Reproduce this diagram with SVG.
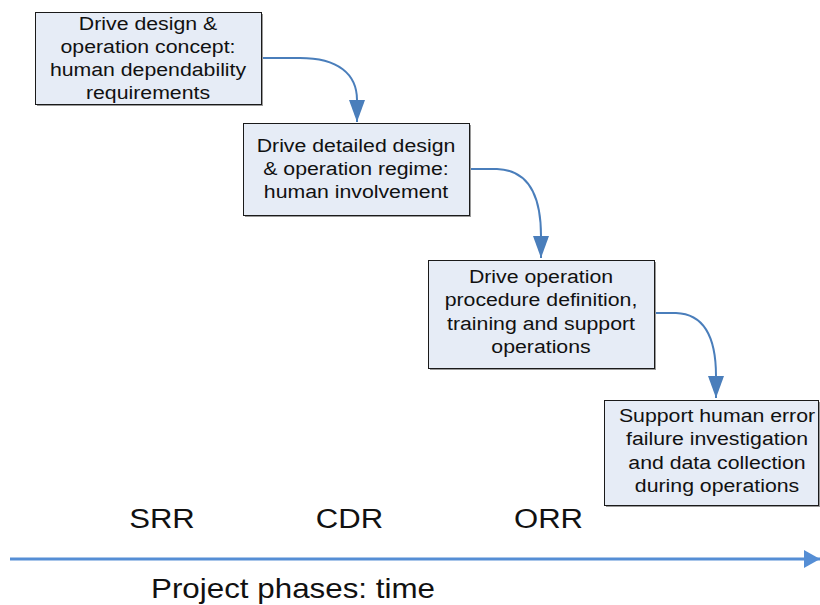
<svg xmlns="http://www.w3.org/2000/svg" width="820" height="605" viewBox="0 0 820 605">
<style>
.box{fill:#e6ecf6;stroke:#1a1a1a;stroke-width:1}
.shadow{fill:#9a9a9a}
.t{font-family:"Liberation Sans",Arial,sans-serif;font-size:19px;fill:#111;text-anchor:middle}
.lbl{font-family:"Liberation Sans",Arial,sans-serif;font-size:28px;fill:#111;text-anchor:middle}
.conn{fill:none;stroke:#4a7ebb;stroke-width:2}
.axis{fill:none;stroke:#558ed5;stroke-width:3}
</style>
<defs>
<marker id="ah" viewBox="0 0 22 16" refX="22" refY="8" markerWidth="22" markerHeight="16" orient="auto" markerUnits="userSpaceOnUse">
<path d="M0,0 L22,8 L0,16 Z" fill="#4a7ebb"/>
</marker>
<marker id="ah2" viewBox="0 0 16 18" refX="16" refY="9" markerWidth="16" markerHeight="18" orient="auto" markerUnits="userSpaceOnUse">
<path d="M0,0 L16,9 L0,18 Z" fill="#558ed5"/>
</marker>
</defs>
<g id="connectors">
<path class="conn" d="M261,58 L300,58 C338,58 357,74 357,100 L357,122" marker-end="url(#ah)"/>
<path class="conn" d="M469,169 L497,169 C526,170 541,192 541,236 L541,258" marker-end="url(#ah)"/>
<path class="conn" d="M654,313 L676,313 C704,314 716,336 716,376 L716,398" marker-end="url(#ah)"/>
</g>
<g id="node1">
<rect class="shadow" x="37" y="14" width="226" height="92"/>
<rect class="box" x="35.5" y="12.5" width="226" height="92"/>
<text class="t" transform="translate(148,0) scale(1.12,1)"><tspan x="0" y="30">Drive design &amp;</tspan><tspan x="0" y="53">operation concept:</tspan><tspan x="0" y="76">human dependability</tspan><tspan x="0" y="99">requirements</tspan></text>
</g>
<g id="node2">
<rect class="shadow" x="245" y="125" width="226" height="92"/>
<rect class="box" x="243.5" y="123.5" width="226" height="92"/>
<text class="t" transform="translate(356,0) scale(1.12,1)"><tspan x="0" y="152">Drive detailed design</tspan><tspan x="0" y="175">&amp; operation regime:</tspan><tspan x="0" y="198">human involvement</tspan></text>
</g>
<g id="node3">
<rect class="shadow" x="430" y="262" width="226" height="108"/>
<rect class="box" x="428.5" y="260.5" width="226" height="108"/>
<text class="t" transform="translate(541,0) scale(1.12,1)"><tspan x="0" y="283">Drive operation</tspan><tspan x="0" y="306">procedure definition,</tspan><tspan x="0" y="330">training and support</tspan><tspan x="0" y="353">operations</tspan></text>
</g>
<g id="node4">
<rect class="shadow" x="606" y="402" width="220" height="105"/>
<rect class="box" x="604.5" y="400.5" width="214" height="105"/>
<text class="t" transform="translate(717,0) scale(1.12,1)"><tspan x="0" y="422">Support human error</tspan><tspan x="0" y="445">failure investigation</tspan><tspan x="0" y="469">and data collection</tspan><tspan x="0" y="492">during operations</tspan></text>
</g>
<g id="timeline">
<path class="axis" d="M10,559 L820,559" marker-end="url(#ah2)"/>
<text class="lbl" transform="translate(162,0) scale(1.11,1)" x="0" y="528">SRR</text>
<text class="lbl" transform="translate(349.5,0) scale(1.11,1)" x="0" y="528">CDR</text>
<text class="lbl" transform="translate(548.5,0) scale(1.11,1)" x="0" y="528">ORR</text>
<text class="lbl" transform="translate(293,0) scale(1.12,1)" x="0" y="598">Project phases: time</text>
</g>
</svg>
